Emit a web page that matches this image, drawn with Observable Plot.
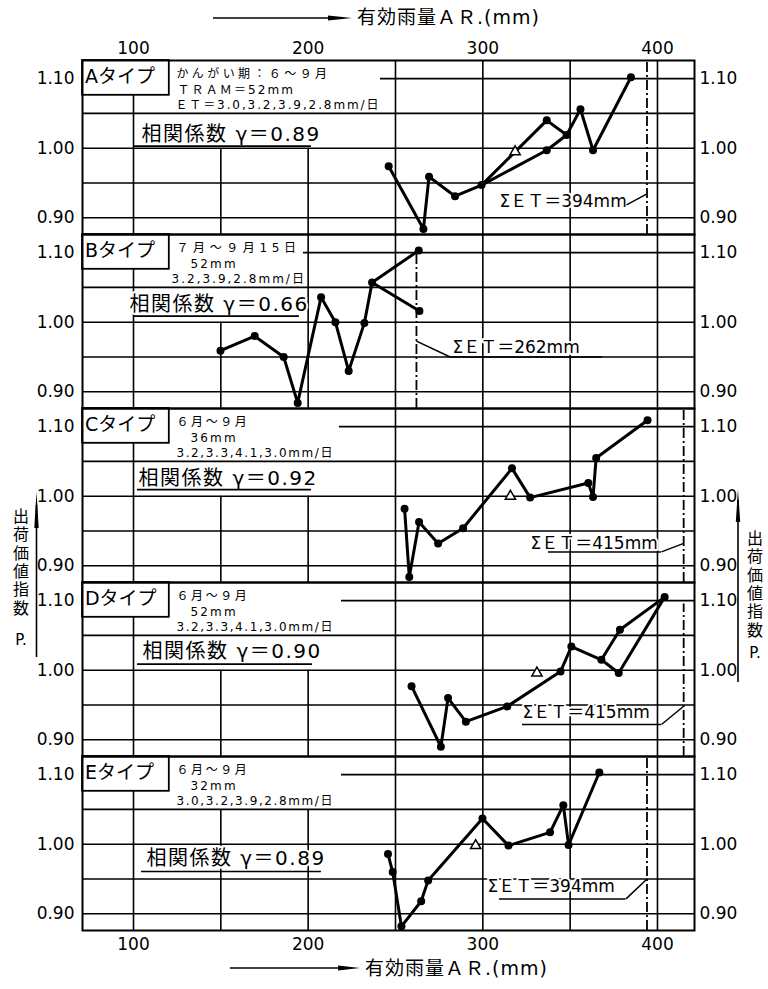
<!DOCTYPE html>
<html><head><meta charset="utf-8">
<script src="https://cdn.jsdelivr.net/npm/d3@7"></script>
<script src="https://cdn.jsdelivr.net/npm/@observablehq/plot@0.6"></script>
<style>
html,body{margin:0;padding:0;background:#fff;}
#wrap{position:relative;width:768px;height:989px;overflow:hidden;font-family:"DejaVu Sans","Noto Sans CJK JP",sans-serif;color:#000;}
#chart{position:absolute;left:0;top:0;}
#deco{position:absolute;left:0;top:0;pointer-events:none;}
.ttl{position:absolute;font-size:19px;line-height:24px;white-space:nowrap;letter-spacing:1px;}
.vt{position:absolute;font-family:"Noto Sans CJK JP",sans-serif;font-size:16px;line-height:20px;writing-mode:vertical-rl;text-orientation:upright;letter-spacing:2.3px;}
.pl{position:absolute;font-family:"DejaVu Sans",sans-serif;font-size:15px;line-height:18px;width:20px;text-align:center;}
</style></head><body>
<div id="wrap">
  <div id="chart"></div>
  <svg id="deco" width="768" height="989">
    <line x1="213" y1="18" x2="340" y2="18" stroke="#000" stroke-width="1.6"/>
    <polygon points="328,15.5 352,18 328,20.5" fill="#000"/>
    <line x1="230" y1="968" x2="350" y2="968" stroke="#000" stroke-width="1.6"/>
    <polygon points="338,965.5 360,968 338,970.5" fill="#000"/>
    <line x1="36.5" y1="657" x2="36.5" y2="505" stroke="#000" stroke-width="1.6"/>
    <polygon points="34.3,528 36.5,492 38.7,528" fill="#000"/>
    <line x1="738" y1="682" x2="738" y2="500" stroke="#000" stroke-width="1.6"/>
    <polygon points="735.8,522 738,489 740.2,522" fill="#000"/>
  </svg>
  <div class="ttl" style="left:357px;top:5px;">有効雨量ＡＲ.(mm)</div>
  <div class="ttl" style="left:365px;top:956px;">有効雨量ＡＲ.(mm)</div>
  <div class="vt" style="left:11px;top:508px;">出荷価値指数</div>
  <div class="pl" style="left:11px;top:631px;">P.</div>
  <div class="vt" style="left:745px;top:530px;">出荷価値指数</div>
  <div class="pl" style="left:745px;top:644px;">P.</div>
</div>
<script>
// ---------- data ----------
const panels = ["A","B","C","D","E"];
const typeLabels = ["Aタイプ","Bタイプ","Cタイプ","Dタイプ","Eタイプ"];
const periodNotes = ["かんがい期：６～９月","７月～９月15日","６月～９月","６月～９月","６月～９月"];
const tramNotes = ["ＴＲＡＭ＝52mm","52mm","36mm","52mm","32mm"];
const etNotes = ["ＥＴ＝3.0,3.2,3.9,2.8mm/日","3.2,3.9,2.8mm/日","3.2,3.3,4.1,3.0mm/日","3.2,3.3,4.1,3.0mm/日","3.0,3.2,3.9,2.8mm/日"];
const corrValues = [0.89,0.66,0.92,0.90,0.89];
const sumET = [394,262,415,415,394];
const xTicks = [100,200,300,400];
const yTicks = [0.90,1.00,1.10];

// AR (mm) and shipment value index P, per type
const arA = [246.1,266.0,269.2,284.1,299.3,336.6,336.6,348.0,355.9,363.1,384.8];
const pA  = [0.974,0.884,0.959,0.931,0.947,1.040,0.997,1.019,1.056,0.997,1.102];
const pathsA = [[0,1,2,3,4,5,7,8,9,10],[4,6,7]];
const triA = [318.5,0.995];

const arB = [149.8,169.4,186.0,194.0,207.4,215.6,223.2,232.2,236.6,263.3,263.7];
const pB  = [0.959,0.980,0.950,0.884,1.036,1.000,0.930,0.999,1.057,1.103,1.016];
const pathsB = [[0,1,2,3,4,5,6,7,8,9],[8,10]];
const triB = null;

const arC = [255.2,257.9,263.5,274.4,288.7,316.7,327.1,360.4,363.1,364.9,394.3];
const pC  = [0.982,0.884,0.963,0.932,0.954,1.040,0.998,1.019,0.999,1.055,1.109];
const pathsC = [[0,1,2,3,4,5,6,7,8,9,10]];
const triC = [315.8,1.000];

const arD = [259.2,276.0,280.1,290.3,314.0,344.5,350.7,367.9,378.5,404.1,377.8];
const pD  = [0.977,0.890,0.960,0.926,0.948,0.998,1.034,1.015,1.058,1.105,0.996];
const pathsD = [[0,1,2,3,4,5,6,7,8,9],[7,10,9]];
const triD = [331.0,0.996];

const arE = [245.7,248.4,253.4,264.7,268.7,299.8,314.7,338.5,346.1,349.1,366.7];
const pE  = [0.986,0.960,0.882,0.918,0.948,1.037,0.998,1.017,1.056,0.999,1.103];
const pathsE = [[0,1,2,3,4,5,6,7,8,9,10]];
const triE = [295.9,0.998];

// ---------- layout (data-space positions of annotations) ----------
const X0 = 70.8, X1 = 421.2, Y0 = 0.876, Y1 = 1.126;
const gridXs = [100,150,200,250,300,350,400];
const gridYs = [0.90,0.95,1.00,1.05,1.10];
const vTop = {100:[1.076,1.076,1.076,1.076,1.076], 150:[1.00,1.00,1.00,1.00,1.05], 200:[1.00,Y1,1.00,1.00,1.05]};
const line110Start = [241.4,197.3,217.9,219.1,219.1];
const etTop = [Y1,1.10,Y1,1.095,Y1];
const boxRight = 120.5, boxBottom = 1.076;
const typeX = 72.2, typeY = 1.1024;
const noteX = [[124.6,125.2,124.0],[124.6,132.6,121.8],[124.6,132.6,124.6],[124.6,132.6,124.6],[124.6,132.6,124.6]];
const noteY = [1.1067,1.0838,1.0623];
const noteLS = [[3.4,2.1,1.9],[4.6,2.2,2.0],[2.6,2.2,1.6],[2.6,2.2,1.6],[2.6,2.2,1.6]];
const corrX = [104.6,97.7,102.9,105.2,107.4];
const corrY = [1.0201,1.0251,1.0249,1.0273,0.9787];
const corrLine = [[1.0030,100.0,201.9],[1.0087,100.0,195.0],[1.0094,102.3,201.9],[1.0087,102.3,202.5],[0.9608,104.6,207.6]];
const etTextX = [309.5,282.6,327.3,322.7,302.7];
const etTextY = [0.9229,0.9629,0.9319,0.9386,0.9386];
const etUnder = [null,[0.9500,281.3,368.5],[0.9200,337.6,402.3],[0.9220,322.7,402.3],[0.9214,309.5,382.0]];
const etLeader = [[382.3,0.9186,0.9343],[281.3,0.9500,0.9729],[402.3,0.9200,0.9322],[402.3,0.9220,0.9482],[382.0,0.9214,0.9500]];

// ---------- tables ----------
const arBy = [arA,arB,arC,arD,arE], pBy = [pA,pB,pC,pD,pE];
const pathsBy = [pathsA,pathsB,pathsC,pathsD,pathsE], triBy = [triA,triB,triC,triD,triE];
const pointRows = panels.flatMap((panel,k)=>arBy[k].map((x,i)=>({panel,x,y:pBy[k][i]})));
const lineRows = panels.flatMap((panel,k)=>pathsBy[k].flatMap((path,s)=>path.map(i=>({panel,seg:panel+s,x:arBy[k][i],y:pBy[k][i]}))));
const triRows = panels.flatMap((panel,k)=>triBy[k]?[{panel,x:triBy[k][0],y:triBy[k][1]}]:[]);
const gridV = panels.flatMap((panel,k)=>gridXs.map(x=>({panel,x,y1:Y0,y2:vTop[x]?vTop[x][k]:Y1})));
const gridH = panels.flatMap((panel,k)=>gridYs.map(y=>({panel,y,x1:Math.abs(y-1.10)<1e-9?line110Start[k]:X0,x2:X1})));
const etRows = panels.map((panel,k)=>({panel,x:sumET[k],y1:Y0,y2:etTop[k]}));
const panelRows = panels.map((panel,k)=>({panel,label:typeLabels[k]}));
const noteRows = panels.flatMap((panel,k)=>[periodNotes[k],tramNotes[k],etNotes[k]].map((t,j)=>({panel,text:t,x:noteX[k][j],y:noteY[j],ls:noteLS[k][j]})));
const corrRows = panels.map((panel,k)=>({panel,text:`相関係数 γ＝${corrValues[k].toFixed(2)}`,x:corrX[k],y:corrY[k],uy:corrLine[k][0],ux1:corrLine[k][1],ux2:corrLine[k][2]}));
const etTextRows = panels.map((panel,k)=>({panel,text:`ΣＥＴ＝${sumET[k]}mm`,x:etTextX[k],y:etTextY[k]}));
const etUnderRows = panels.flatMap((panel,k)=>etUnder[k]?[{panel,y:etUnder[k][0],x1:etUnder[k][1],x2:etUnder[k][2]}]:[]);
const etLeaderRows = panels.map((panel,k)=>({panel,x1:etLeader[k][0],y1:etLeader[k][1],x2:sumET[k],y2:etLeader[k][2]}));

const fmt = d3.format(".2f");
const chart = Plot.plot({
  width: 768, height: 989,
  marginTop: 58, marginBottom: 57, marginLeft: 82, marginRight: 74,
  style: {fontFamily: '"DejaVu Sans","Noto Sans CJK JP",sans-serif', fontSize: "17px", background: "white", color: "black"},
  x: {domain: [X0, X1]},
  y: {domain: [Y0, Y1]},
  fy: {domain: panels, padding: 0, axis: null},
  marks: [
    Plot.ruleX(gridV, {x:"x", y1:"y1", y2:"y2", fy:"panel", stroke:"black", strokeWidth:1.6}),
    Plot.ruleY(gridH, {y:"y", x1:"x1", x2:"x2", fy:"panel", stroke:"black", strokeWidth:1.6}),
    Plot.ruleX(etRows, {x:"x", y1:"y1", y2:"y2", fy:"panel", stroke:"black", strokeWidth:1.8, strokeDasharray:"10,3,2,3"}),
    Plot.rect(panelRows, {x1:()=>X0, x2:()=>boxRight, y1:()=>boxBottom, y2:()=>Y1, fy:"panel", fill:"white", stroke:"black", strokeWidth:1.8}),
    Plot.text(panelRows, {x:()=>typeX, y:()=>typeY, text:"label", fy:"panel", textAnchor:"start", fontSize:19}),
    Plot.text(noteRows, {x:"x", y:"y", text:"text", fy:"panel", textAnchor:"start", fontSize:12}),
    Plot.text(corrRows, {x:"x", y:"y", text:"text", fy:"panel", textAnchor:"start", fontSize:20, stroke:"white", strokeWidth:4, paintOrder:"stroke", fill:"black"}),
    Plot.ruleY(corrRows, {y:"uy", x1:"ux1", x2:"ux2", fy:"panel", stroke:"black", strokeWidth:1.6}),
    Plot.text(etTextRows, {x:"x", y:"y", text:"text", fy:"panel", textAnchor:"start", fontSize:17, stroke:"white", strokeWidth:4, paintOrder:"stroke", fill:"black"}),
    Plot.ruleY(etUnderRows, {y:"y", x1:"x1", x2:"x2", fy:"panel", stroke:"black", strokeWidth:1.5}),
    Plot.link(etLeaderRows, {x1:"x1", y1:"y1", x2:"x2", y2:"y2", fy:"panel", stroke:"black", strokeWidth:1.5}),
    Plot.line(lineRows, {x:"x", y:"y", z:"seg", fy:"panel", stroke:"black", strokeWidth:3, curve:"linear"}),
    Plot.dot(pointRows, {x:"x", y:"y", fy:"panel", r:4, fill:"black", stroke:"none"}),
    Plot.dot(triRows, {x:"x", y:"y", fy:"panel", symbol:"triangle", r:3.8, fill:"white", stroke:"black", strokeWidth:1.5}),
    Plot.frame({stroke:"black", strokeWidth:2}),
    Plot.axisX({anchor:"top", ticks:xTicks, tickSize:0, tickPadding:7, label:null, fontSize:17}),
    Plot.axisX({anchor:"bottom", ticks:xTicks, tickSize:0, tickPadding:7, label:null, fontSize:17}),
    Plot.axisY({anchor:"left", ticks:yTicks, tickFormat:fmt, tickSize:0, tickPadding:8, label:null, fontSize:17}),
    Plot.axisY({anchor:"right", ticks:yTicks, tickFormat:fmt, tickSize:0, tickPadding:5, label:null, fontSize:17})
  ]
});
// letter spacing of the typewriter-style notes
const lsByText = new Map(noteRows.map(d => [d.text, d.ls]));
d3.select(chart).selectAll("text").each(function() {
  const t = this.textContent;
  if (lsByText.has(t)) this.style.letterSpacing = lsByText.get(t) + "px";
  else if (t.startsWith("相関係数")) this.style.letterSpacing = "1.5px";
});
document.getElementById("chart").appendChild(chart);
</script>
</body></html>
